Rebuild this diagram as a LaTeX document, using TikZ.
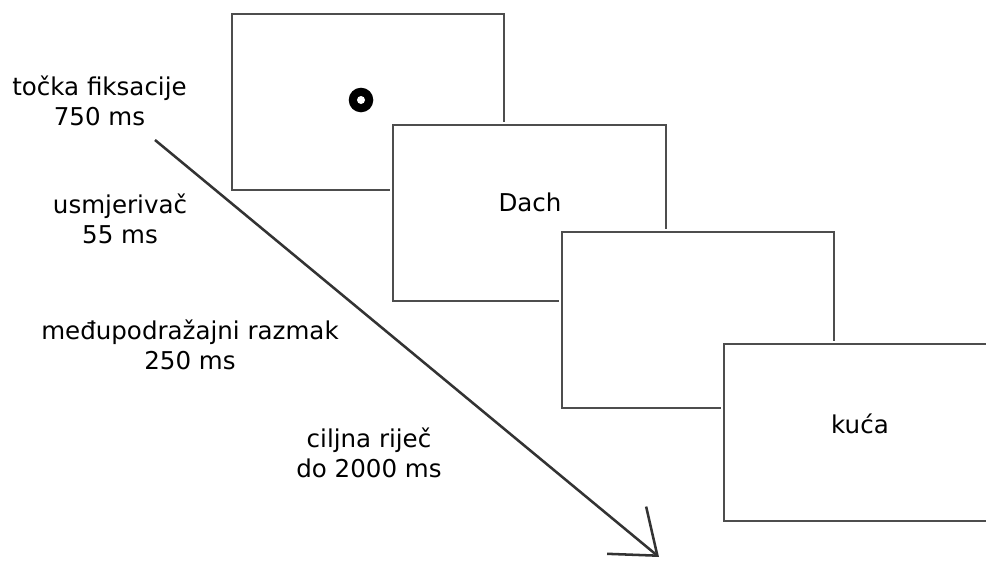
\documentclass[tikz,border=0pt]{standalone}
\usepackage{fontspec}
\setmainfont{DejaVu Sans}
\usetikzlibrary{arrows.meta}
\definecolor{framegray}{HTML}{4D4D4D}
\definecolor{arrowgray}{HTML}{333333}
\begin{document}
\begin{tikzpicture}[x=0.75pt,y=-0.75pt,
  screen/.style={draw=framegray,fill=white,line width=1.5pt,preaction={draw=white,line width=4pt}},
  stagetext/.style={align=center,anchor=base,inner sep=0pt,font=\fontsize{18.4}{22}\selectfont}]
\useasboundingbox (0,0) rectangle (986,561);
\clip (0,0) rectangle (986,561);
% screens
\draw[screen] (232,14) rectangle (504,190);
\fill (361,100) circle (12.3);
\fill[white] (361,100) circle (4);
\draw[screen] (393,125) rectangle (666,301);
\draw[screen] (562,232) rectangle (834,408);
\draw[screen] (724,344) rectangle (996,521);
\node[stagetext] (prime) at (530,211) {Dach};
\node[stagetext] (target) at (860,433) {kuća};
% time axis
\coordinate (tstart) at (155,140);
\coordinate (tend) at (659,557);
\draw[arrowgray,line width=1.9pt,-{Straight Barb[length=30pt,width=46pt]}] (tstart) -- (tend);
\node[stagetext] (fixtext) at (99.5,125) {točka fiksacije\\750 ms};
\node[stagetext] (primetext) at (120,243) {usmjerivač\\55 ms};
\node[stagetext] (isitext) at (190,369) {međupodražajni razmak\\250 ms};
\node[stagetext] (targettext) at (369,477) {ciljna riječ\\do 2000 ms};
\end{tikzpicture}
\end{document}
